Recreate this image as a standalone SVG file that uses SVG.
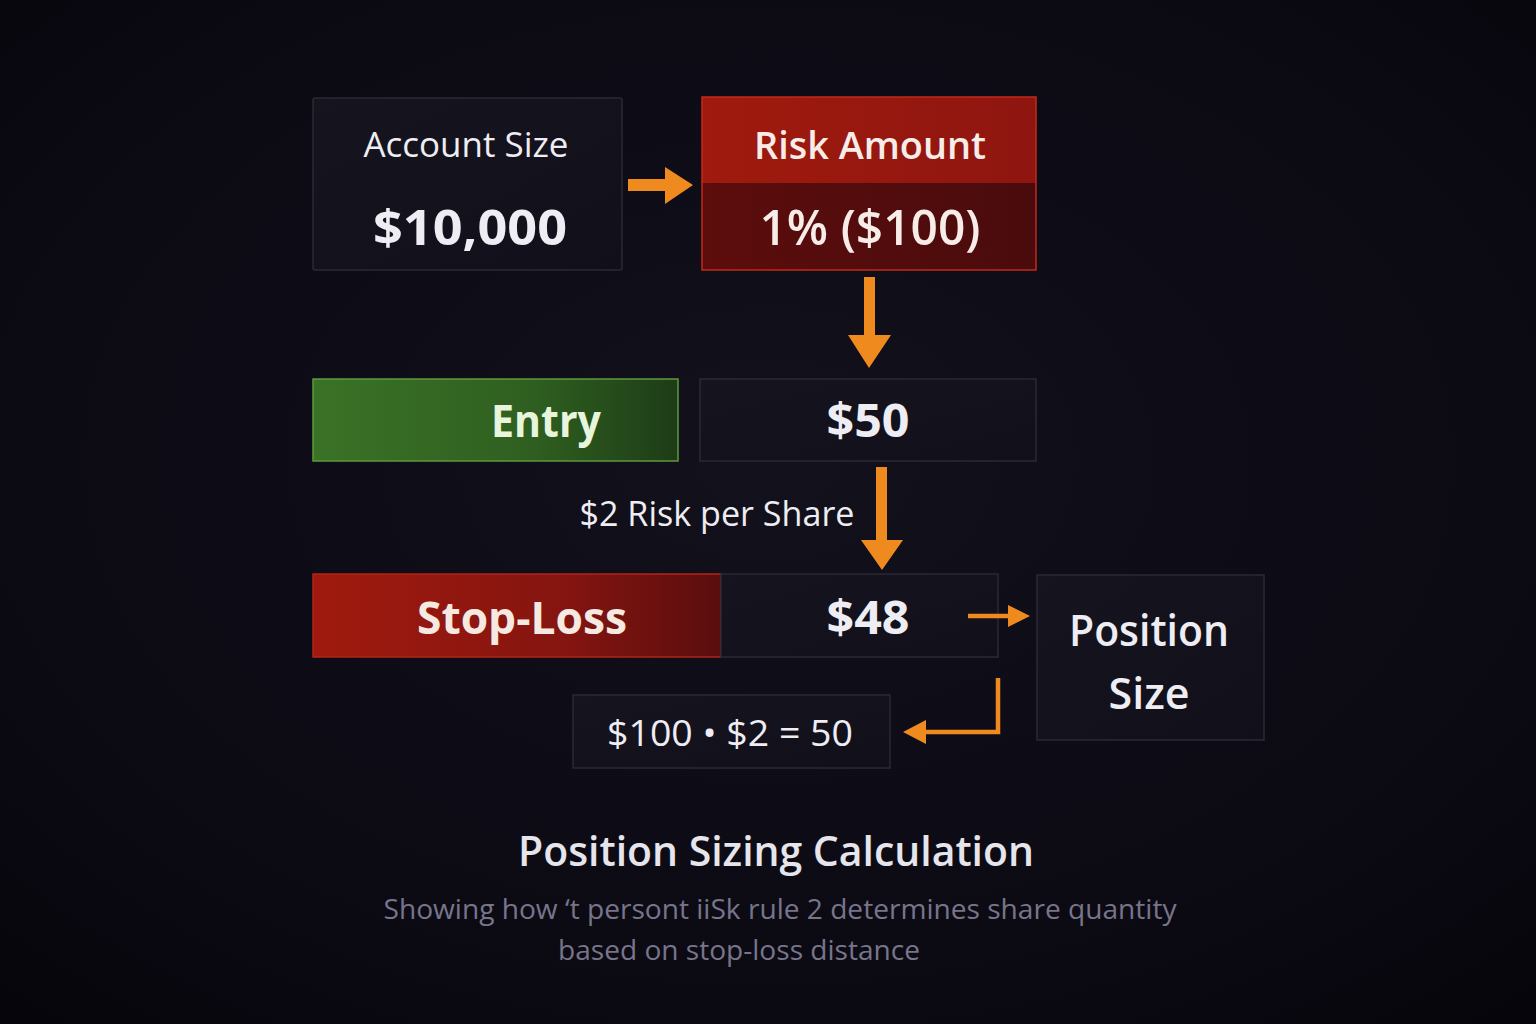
<svg xmlns="http://www.w3.org/2000/svg" width="1536" height="1024" viewBox="0 0 1536 1024">
<defs>
<radialGradient id="bg" cx="0.5" cy="0.45" r="0.75">
<stop offset="0" stop-color="#12111c"/>
<stop offset="0.7" stop-color="#0b0a13"/>
<stop offset="1" stop-color="#06050b"/>
</radialGradient>
<linearGradient id="dark" x1="0" y1="0" x2="1" y2="1">
<stop offset="0" stop-color="#16151f"/>
<stop offset="1" stop-color="#11101a"/>
</linearGradient>
<linearGradient id="redTop" x1="0" y1="0" x2="1" y2="0">
<stop offset="0" stop-color="#a01a0e"/>
<stop offset="1" stop-color="#8e1610"/>
</linearGradient>
<linearGradient id="redBot" x1="0" y1="0" x2="1" y2="0">
<stop offset="0" stop-color="#5c0d0c"/>
<stop offset="1" stop-color="#4a0b0d"/>
</linearGradient>
<linearGradient id="green" x1="0" y1="0" x2="1" y2="0">
<stop offset="0" stop-color="#3a7226"/>
<stop offset="0.6" stop-color="#2f5f20"/>
<stop offset="1" stop-color="#1e3c17"/>
</linearGradient>
<linearGradient id="stop" x1="0" y1="0" x2="1" y2="0">
<stop offset="0" stop-color="#a01a0e"/>
<stop offset="0.6" stop-color="#861510"/>
<stop offset="1" stop-color="#5a0e0e"/>
</linearGradient>
<linearGradient id="divider" x1="0" y1="0" x2="1" y2="0">
<stop offset="0" stop-color="#6a6878" stop-opacity="0"/>
<stop offset="0.5" stop-color="#8a8898"/>
<stop offset="1" stop-color="#6a6878" stop-opacity="0"/>
</linearGradient>
</defs>
<style>
.box{fill:url(#dark);stroke:#2a2935;stroke-width:1.5}
.t{font-family:"Open Sans","Noto Sans","Liberation Sans",sans-serif;fill:#eeedf3;text-anchor:middle}
.b{font-weight:700}
.m{font-weight:600}
.warm{fill:#f7ece8}
.sub{fill:#77758a;font-weight:400}
.arrow{fill:#ef8a1f}
.line{fill:none;stroke:#ef8a1f;stroke-width:4.5}
</style>
<rect width="1536" height="1024" fill="url(#bg)"/>

<g id="account-size">
<rect class="box" x="313" y="98" width="309" height="172" rx="2"/>
<line x1="395" y1="183" x2="540" y2="183" stroke="url(#divider)" stroke-width="2"/>
<text class="t" x="466" y="157" font-size="35" textLength="205" lengthAdjust="spacingAndGlyphs">Account Size</text>
<text class="t b" x="470" y="245" font-size="49" textLength="194" lengthAdjust="spacingAndGlyphs">$10,000</text>
</g>

<g id="risk-amount">
<rect x="702" y="97" width="334" height="86" fill="url(#redTop)"/>
<rect x="702" y="183" width="334" height="87" fill="url(#redBot)"/>
<rect x="702" y="97" width="334" height="173" fill="none" stroke="#c22a1a" stroke-width="1.5"/>
<text class="t m warm" x="870" y="159" font-size="37" textLength="232" lengthAdjust="spacingAndGlyphs">Risk Amount</text>
<text class="t m warm" x="870" y="245" font-size="49" textLength="221" lengthAdjust="spacingAndGlyphs">1% ($100)</text>
</g>

<g id="entry">
<rect x="313" y="379" width="365" height="82" fill="url(#green)" stroke="#5d9a3c" stroke-width="1.5"/>
<text class="t b" x="546" y="437" font-size="44" style="fill:#e6f5dc" textLength="110" lengthAdjust="spacingAndGlyphs">Entry</text>
</g>

<g id="entry-price">
<rect class="box" x="700" y="379" width="336" height="82"/>
<text class="t b" x="868" y="437" font-size="46" textLength="83" lengthAdjust="spacingAndGlyphs">$50</text>
</g>

<g id="risk-per-share">
<text class="t" x="717" y="526" font-size="34" textLength="275" lengthAdjust="spacingAndGlyphs">$2 Risk per Share</text>
</g>

<g id="stop-loss">
<rect x="313" y="574" width="408" height="83" fill="url(#stop)" stroke="#b2241a" stroke-width="1.5"/>
<text class="t b" x="522" y="634" font-size="44" style="fill:#f6e9e2" textLength="210" lengthAdjust="spacingAndGlyphs">Stop-Loss</text>
</g>

<g id="stop-price">
<rect class="box" x="721" y="574" width="277" height="83"/>
<text class="t b" x="868" y="634" font-size="46" textLength="83" lengthAdjust="spacingAndGlyphs">$48</text>
</g>

<g id="position-size">
<rect class="box" x="1037" y="575" width="227" height="165"/>
<text class="t m" x="1149" y="646" font-size="44" textLength="160" lengthAdjust="spacingAndGlyphs">Position</text>
<text class="t m" x="1149" y="709" font-size="44" textLength="81" lengthAdjust="spacingAndGlyphs">Size</text>
</g>

<g id="formula">
<rect class="box" x="573" y="695" width="317" height="73"/>
<text class="t" x="730" y="746" font-size="36" textLength="246" lengthAdjust="spacingAndGlyphs">$100 • $2 = 50</text>
</g>

<g id="connectors">
<polygon class="arrow" points="628,179 665,179 665,167 693,185 665,204 665,191 628,191"/>
<polygon class="arrow" points="864,277 875,277 875,335 891,335 869,368 848,335 864,335"/>
<polygon class="arrow" points="876,467 887,467 887,540 903,540 882,570 861,540 876,540"/>
<line class="line" x1="968" y1="616" x2="1012" y2="616"/>
<polygon class="arrow" points="1008,605 1030,616 1008,627"/>
<polyline class="line" points="998,678 998,732 922,732"/>
<polygon class="arrow" points="926,720 903,732 926,744"/>
</g>

<g id="caption">
<text class="t m" x="776" y="866" font-size="42" style="fill:#e6e5ec" textLength="516" lengthAdjust="spacingAndGlyphs">Position Sizing Calculation</text>
<text class="t sub" x="780" y="919" font-size="28" textLength="793" lengthAdjust="spacingAndGlyphs">Showing how ‘t persont iiSk rule 2 determines share quantity</text>
<text class="t sub" x="739" y="960" font-size="28" textLength="362" lengthAdjust="spacingAndGlyphs">based on stop-loss distance</text>
</g>
</svg>
